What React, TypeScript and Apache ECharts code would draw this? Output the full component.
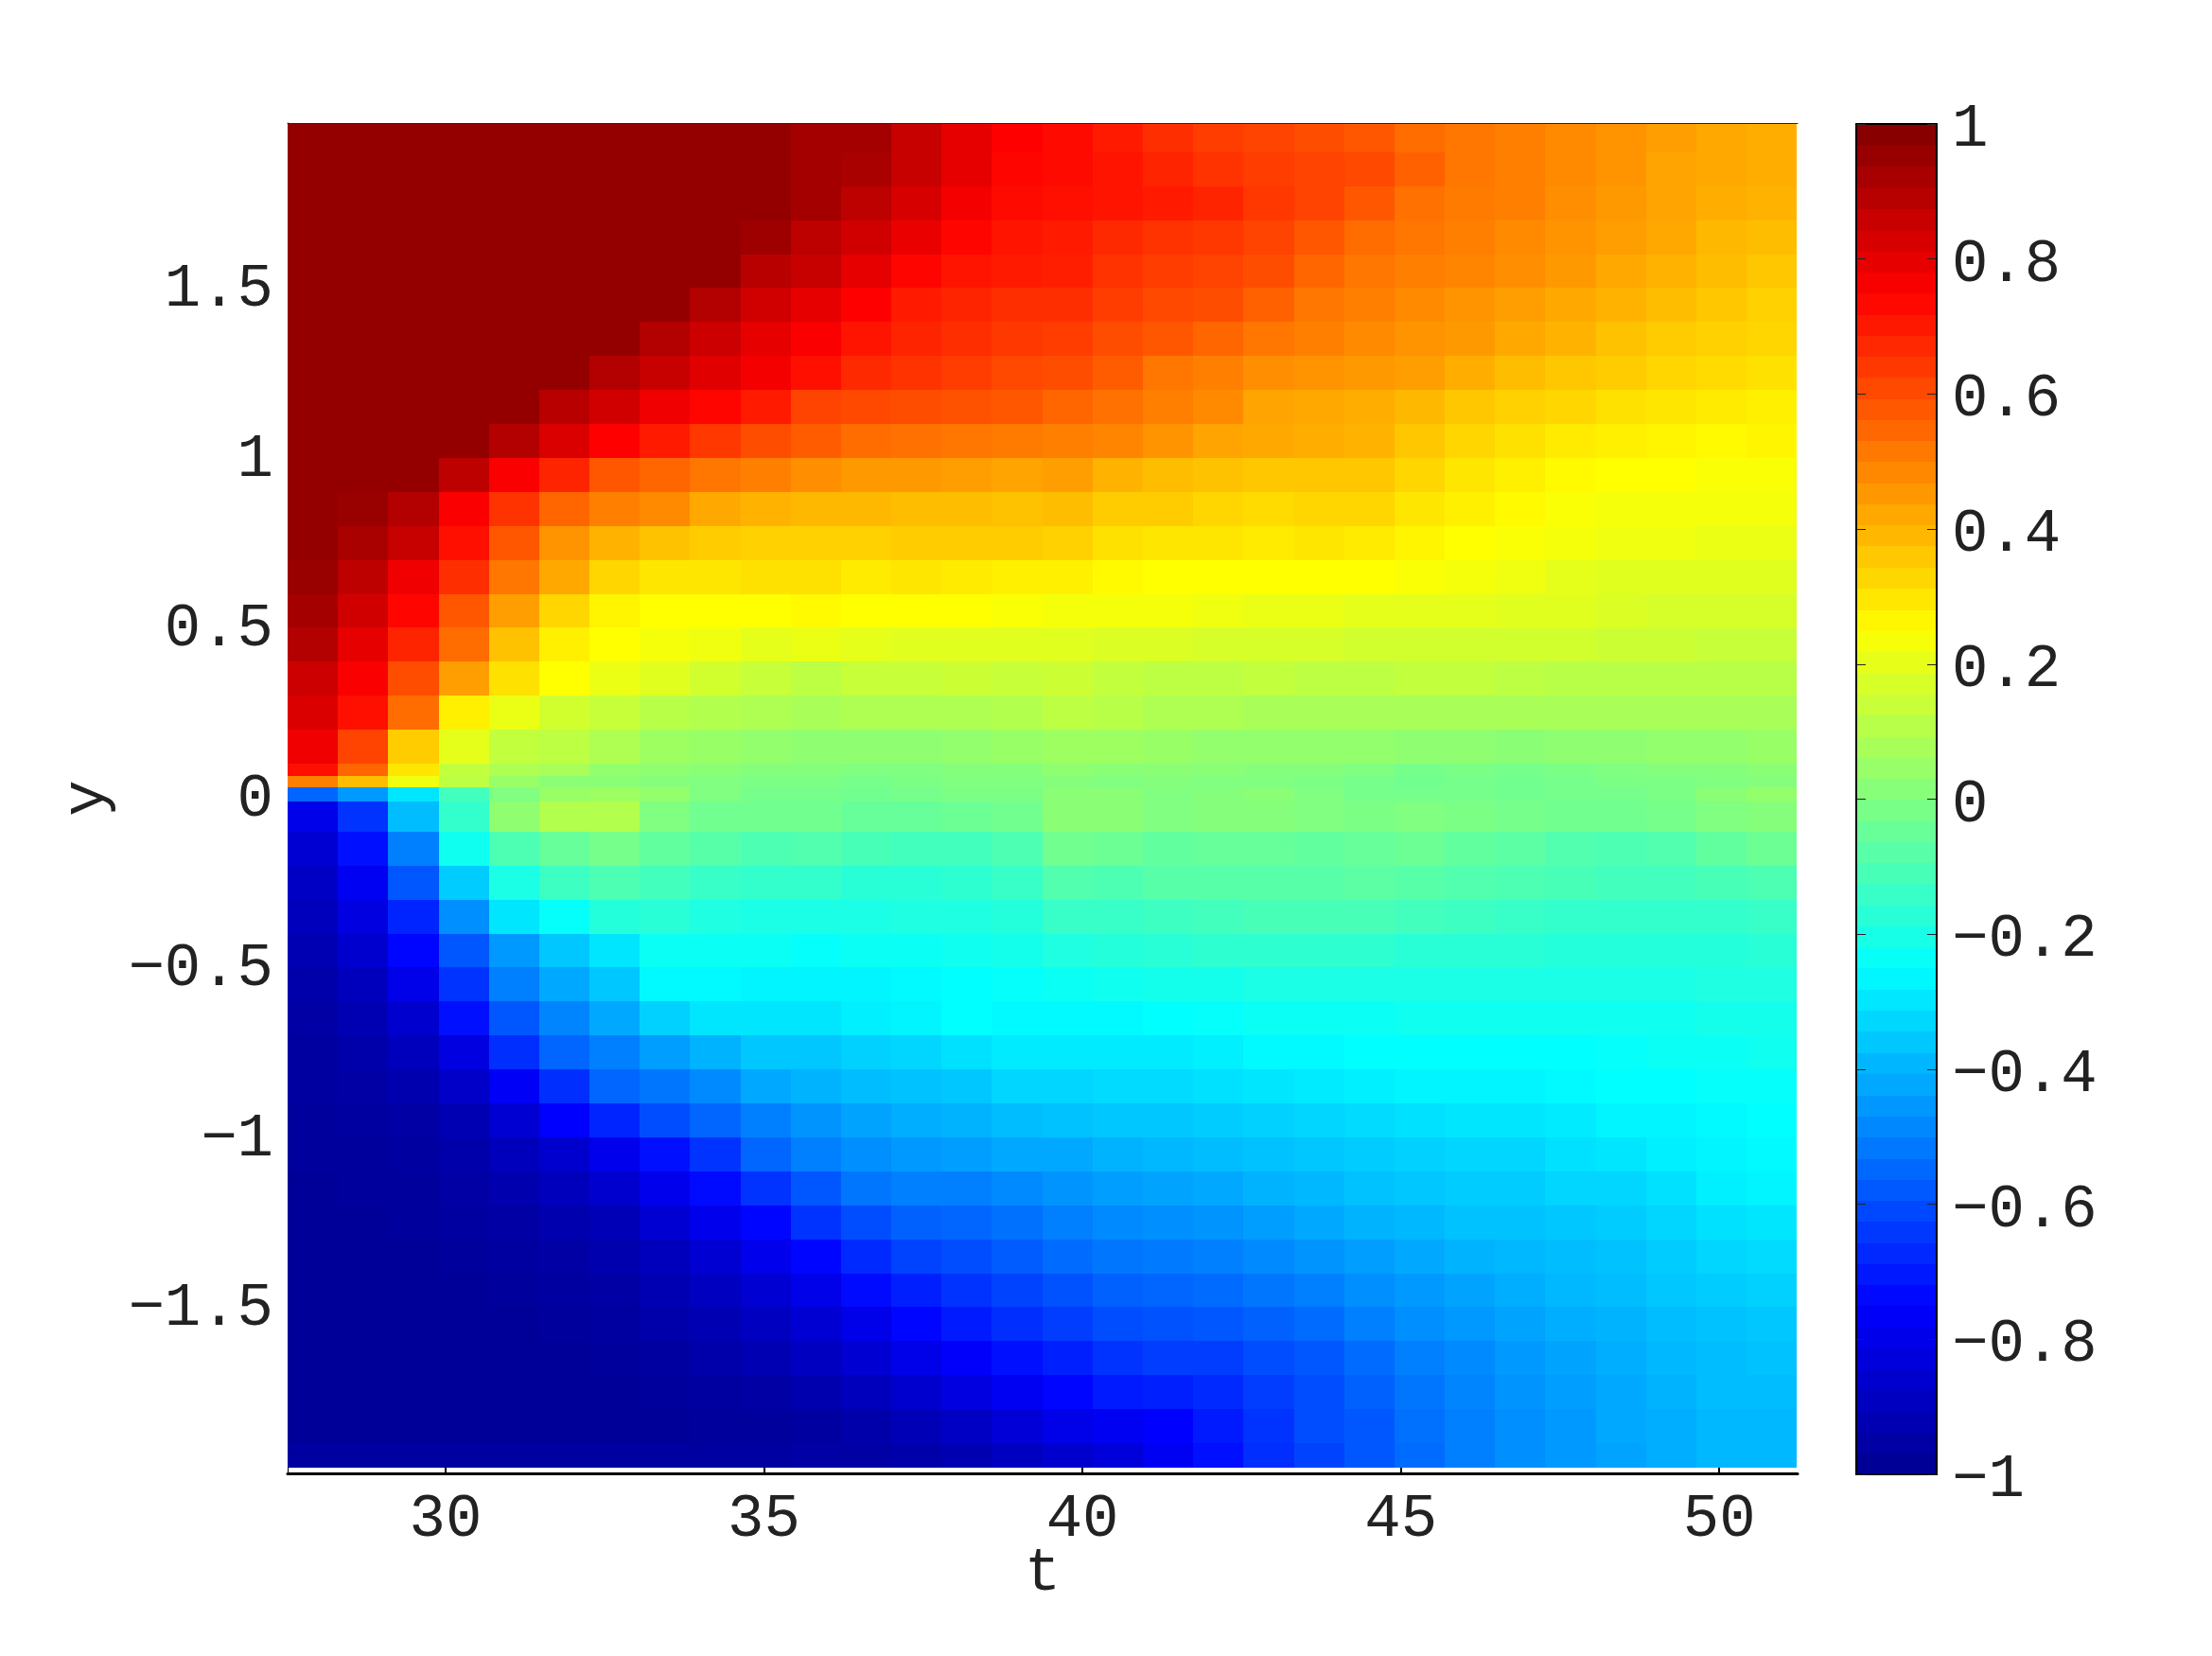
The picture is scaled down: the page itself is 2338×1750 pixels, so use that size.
import React, { useEffect, useRef } from "react";
import * as echarts from "echarts";

const tCenters = [27.915, 28.705, 29.495, 30.285, 31.075, 31.865, 32.655, 33.445, 34.235, 35.025, 35.815, 36.605, 37.395, 38.185, 38.975, 39.765, 40.555, 41.345, 42.135, 42.925, 43.715, 44.505, 45.295, 46.085, 46.875, 47.665, 48.455, 49.245, 50.035, 50.825];
const yEdges = [1.986, 1.9, 1.8, 1.7, 1.6, 1.5, 1.4, 1.3, 1.2, 1.1, 1.0, 0.9, 0.8, 0.7, 0.6, 0.5, 0.4, 0.3, 0.2, 0.1, 0.065, 0.03, -0.01, -0.1, -0.2, -0.3, -0.4, -0.5, -0.6, -0.7, -0.8, -0.9, -1.0, -1.1, -1.2, -1.3, -1.4, -1.5, -1.6, -1.7, -1.8, -1.9, -1.972];
const xTicks = [30, 35, 40, 45, 50];
const yTicks = [-1.5, -1, -0.5, 0, 0.5, 1, 1.5];

// values in hundredths, one row per y band (top to bottom), one entry per t column
const zRows = [
  [96,96,96,96,96,96,96,96,96,96,93,93,86,80,75,73,70,66,63,62,60,58,54,52,50,48,46,44,42,41],
  [96,96,96,96,96,96,96,96,96,96,93,92,86,80,74,73,71,68,65,63,62,61,56,52,50,48,46,43,42,41],
  [96,96,96,96,96,96,96,96,96,96,93,88,83,77,73,72,71,70,68,64,62,58,53,51,50,47,45,43,41,40],
  [96,96,96,96,96,96,96,96,96,94,88,84,79,74,71,70,67,65,64,62,58,54,52,50,48,46,44,42,39,38],
  [96,96,96,96,96,96,96,96,96,89,86,80,74,71,70,69,65,63,62,60,55,52,50,49,47,45,42,40,38,36],
  [96,96,96,96,96,96,96,96,90,84,80,75,70,68,66,66,63,61,60,56,52,50,48,46,44,42,40,38,36,34],
  [96,96,96,96,96,96,96,90,85,80,76,71,68,66,64,63,60,58,55,52,50,48,46,45,42,40,37,35,34,33],
  [96,96,96,96,96,96,90,86,81,77,72,67,65,63,61,60,57,52,50,47,46,45,44,41,38,36,35,33,32,31],
  [96,96,96,96,96,89,84,78,74,70,62,61,60,59,58,55,53,50,48,43,42,41,39,36,34,33,31,30,29,28],
  [96,96,96,96,90,82,75,70,64,60,57,54,53,52,51,50,49,46,43,42,41,40,36,33,31,29,28,27,26,27],
  [96,96,96,88,76,68,58,55,52,50,47,45,45,44,43,44,40,38,37,36,36,36,33,30,28,26,25,25,24,24],
  [96,95,90,76,65,55,50,48,42,40,39,39,38,38,37,38,35,35,33,32,33,33,30,28,26,24,23,23,23,23],
  [96,92,86,72,58,46,40,37,35,34,34,34,35,35,35,34,31,30,30,29,30,29,27,25,24,23,22,22,21,21],
  [95,88,78,66,52,42,33,30,30,31,31,29,30,29,28,28,26,25,25,25,25,25,24,23,22,20,19,19,19,19],
  [93,84,74,58,44,33,27,25,25,25,26,25,25,25,24,23,23,23,22,21,21,20,20,20,19,19,18,17,17,17],
  [90,80,68,54,37,28,25,23,22,20,21,20,19,19,19,19,18,18,17,17,17,16,16,16,16,16,15,15,14,14],
  [85,76,60,44,31,25,21,19,16,14,12,14,14,15,14,15,13,12,12,13,12,12,13,13,12,11,11,11,11,11],
  [82,72,54,28,21,16,14,11,10,9,8,9,9,9,10,12,11,9,9,8,8,8,8,8,8,8,8,8,8,8],
  [78,62,35,20,13,12,9,6,5,4,3,3,3,4,5,6,6,5,4,4,4,4,3,3,2,3,3,4,4,5],
  [72,55,30,13,9,8,4,3,2,1,1,0,0,1,1,3,2,2,2,1,1,0,-2,-1,-2,-1,0,1,1,2],
  [50,38,22,12,5,2,2,1,0,-1,-1,-2,-1,0,0,1,0,1,0,0,-1,-2,-3,-2,-3,-2,-1,-1,0,1],
  [-55,-45,-30,-12,0,5,6,4,0,-2,-2,-3,-2,-1,-1,2,2,0,1,2,0,-2,-2,-2,-3,-2,-2,-1,2,4],
  [-80,-65,-38,-15,3,10,10,0,-3,-3,-3,-5,-5,-4,-3,2,2,0,1,1,0,-1,0,-1,-2,-3,-3,-2,0,1],
  [-85,-72,-50,-22,-10,-5,-2,-6,-8,-10,-9,-11,-12,-12,-10,-3,-4,-6,-5,-5,-6,-5,-4,-6,-7,-9,-10,-9,-6,-4],
  [-88,-78,-58,-35,-20,-13,-10,-12,-14,-15,-15,-17,-17,-16,-14,-9,-10,-8,-8,-8,-8,-7,-8,-9,-10,-11,-12,-12,-11,-10],
  [-90,-82,-68,-47,-30,-24,-18,-17,-19,-20,-20,-20,-19,-19,-18,-14,-14,-13,-12,-11,-11,-11,-12,-13,-14,-15,-15,-15,-15,-14],
  [-92,-86,-74,-58,-45,-36,-30,-23,-23,-23,-24,-23,-23,-22,-21,-19,-18,-17,-16,-16,-16,-16,-17,-17,-17,-18,-18,-18,-18,-17],
  [-94,-90,-80,-65,-50,-42,-36,-26,-26,-27,-27,-27,-26,-25,-24,-23,-22,-21,-21,-20,-20,-20,-20,-20,-20,-20,-20,-20,-19,-19],
  [-95,-92,-86,-72,-58,-49,-42,-34,-30,-30,-30,-28,-27,-25,-26,-26,-26,-25,-24,-23,-23,-23,-22,-22,-22,-22,-22,-22,-21,-21],
  [-96,-94,-90,-82,-66,-55,-50,-44,-40,-36,-36,-34,-33,-31,-29,-29,-29,-29,-28,-26,-26,-25,-25,-25,-25,-25,-24,-23,-23,-22],
  [-96,-95,-93,-87,-77,-66,-55,-52,-48,-42,-40,-38,-37,-36,-33,-33,-32,-32,-31,-30,-29,-28,-27,-27,-27,-26,-25,-25,-24,-24],
  [-97,-96,-95,-92,-85,-75,-68,-60,-55,-50,-46,-43,-41,-40,-38,-37,-36,-36,-35,-34,-33,-32,-31,-30,-30,-29,-27,-27,-26,-25],
  [-97,-97,-96,-94,-90,-86,-79,-72,-65,-55,-50,-47,-45,-44,-42,-42,-40,-39,-38,-37,-36,-35,-34,-33,-33,-31,-30,-28,-27,-26],
  [-98,-97,-97,-95,-93,-90,-86,-79,-73,-65,-58,-52,-50,-50,-48,-46,-44,-43,-42,-40,-39,-37,-36,-35,-35,-33,-33,-31,-28,-27],
  [-98,-98,-97,-96,-95,-93,-91,-85,-79,-74,-65,-60,-56,-55,-53,-50,-48,-47,-46,-44,-42,-40,-39,-37,-37,-36,-35,-33,-31,-30],
  [-98,-98,-98,-97,-96,-95,-93,-90,-85,-79,-74,-67,-62,-60,-57,-54,-52,-51,-50,-48,-46,-44,-42,-40,-39,-38,-37,-35,-33,-32],
  [-98,-98,-98,-98,-97,-96,-95,-92,-89,-85,-80,-73,-69,-65,-62,-59,-56,-55,-54,-52,-50,-47,-45,-43,-41,-39,-38,-36,-35,-34],
  [-98,-98,-98,-98,-98,-97,-96,-94,-92,-89,-85,-80,-74,-70,-66,-63,-60,-59,-58,-56,-54,-50,-47,-45,-43,-41,-40,-38,-37,-36],
  [-98,-98,-98,-98,-98,-98,-97,-96,-94,-92,-89,-85,-80,-76,-72,-69,-65,-63,-63,-60,-58,-54,-50,-48,-45,-43,-41,-39,-38,-37],
  [-98,-98,-98,-98,-98,-98,-98,-97,-96,-95,-93,-90,-86,-82,-78,-74,-70,-69,-67,-63,-60,-56,-52,-49,-46,-44,-42,-40,-38,-38],
  [-98,-98,-98,-98,-98,-98,-98,-98,-97,-97,-96,-94,-91,-88,-84,-80,-78,-75,-70,-65,-60,-58,-53,-50,-47,-45,-42,-41,-39,-39],
  [-96,-96,-96,-96,-96,-96,-96,-96,-96,-96,-95,-95,-94,-92,-89,-86,-83,-78,-72,-66,-62,-58,-54,-50,-47,-45,-43,-41,-39,-39],
];

const colorbarLevels = [
  -0.984,-0.953,-0.922,-0.891,-0.859,-0.828,-0.797,-0.766,-0.734,-0.703,-0.672,-0.641,-0.609,-0.578,-0.547,-0.516,
  -0.484,-0.453,-0.422,-0.391,-0.359,-0.328,-0.297,-0.266,-0.234,-0.203,-0.172,-0.141,-0.109,-0.078,-0.047,-0.016,
  0.016,0.047,0.078,0.109,0.141,0.172,0.203,0.234,0.266,0.297,0.328,0.359,0.391,0.422,0.453,0.484,
  0.516,0.547,0.578,0.609,0.641,0.672,0.703,0.734,0.766,0.797,0.828,0.859,0.891,0.922,0.953,0.984,
];
const jetStops = ["#00008f", "#0000ff", "#0080ff", "#00ffff", "#80ff80", "#ffff00", "#ff8000", "#ff0000", "#800000"];

const FONT = "Liberation Mono";
const fmt = (v: number) => String(Math.round(v * 10) / 10).replace("-", "\u2212");

export default function App() {
  const ref = useRef<HTMLDivElement>(null);
  useEffect(() => {
    document.body.style.margin = "0";
    const chart = echarts.init(ref.current!, undefined, { renderer: "svg" });
    const cells: number[][] = [];
    zRows.forEach((row, r) =>
      row.forEach((v, c) => cells.push([tCenters[c], yEdges[r], yEdges[r + 1], v / 100]))
    );
    const barCells = colorbarLevels.map((v) => [0.5, Math.min(v + 0.016, 1), Math.max(v - 0.016, -1), v]);
    const halfStep = 0.395;
    const renderField = (_: any, api: any) => {
      const a = api.coord([api.value(0) - halfStep, api.value(1)]);
      const b = api.coord([api.value(0) + halfStep, api.value(2)]);
      const x0 = Math.round(a[0]), x1 = Math.round(b[0]), y0 = Math.round(a[1]), y1 = Math.round(b[1]);
      return { type: "rect", shape: { x: x0, y: y0, width: x1 - x0, height: y1 - y0 }, style: { fill: api.visual("color") } };
    };
    const renderBar = (_: any, api: any) => {
      const a = api.coord([0, api.value(1)]);
      const b = api.coord([1, api.value(2)]);
      const y0 = Math.floor(a[1]), y1 = Math.ceil(b[1]);
      return { type: "rect", shape: { x: a[0], y: y0, width: b[0] - a[0], height: y1 - y0 }, style: { fill: api.visual("color") } };
    };
    const labelStyle = { fontFamily: FONT, fontSize: 64, color: "#222" };
    const offAxis = { splitLine: { show: false }, axisTick: { show: false }, axisLabel: { show: false } };
    chart.setOption({
      animation: false,
      backgroundColor: "#fff",
      visualMap: {
        type: "continuous", show: false, min: -1, max: 1, dimension: 3, seriesIndex: [0, 1],
        inRange: { color: jetStops },
      },
      grid: [
        { left: 304, top: 130, width: 1596, height: 1427 },
        { left: 1962, top: 131, width: 85, height: 1427 },
      ],
      xAxis: [
        {
          type: "value", gridIndex: 0, position: "bottom", min: 27.52, max: 51.23,
          name: "t", nameLocation: "middle", nameGap: 74, nameMoveOverlap: false, nameTextStyle: labelStyle,
          splitLine: { show: false },
          axisLine: { show: true, onZero: false, lineStyle: { color: "#000", width: 3 } },
          axisTick: { show: true, inside: true, length: 8, lineStyle: { color: "#000", width: 2 }, customValues: xTicks },
          axisLabel: { ...labelStyle, margin: 17, customValues: xTicks, formatter: (v: number) => fmt(v) },
        },
        {
          ...offAxis, type: "value", gridIndex: 0, position: "top", min: 27.52, max: 51.23, z: 5,
          axisLine: { show: true, onZero: false, lineStyle: { color: "#4a1a00", width: 1 } },
        },
        {
          ...offAxis, type: "value", gridIndex: 1, position: "bottom", min: 0, max: 1, z: 5,
          axisLine: { show: true, onZero: false, lineStyle: { color: "#000", width: 2 } },
        },
        {
          ...offAxis, type: "value", gridIndex: 1, position: "top", min: 0, max: 1, z: 5,
          axisLine: { show: true, onZero: false, lineStyle: { color: "#000", width: 2 } },
        },
      ],
      yAxis: [
        {
          type: "value", gridIndex: 0, position: "left", min: -1.989, max: 1.986,
          name: "y", nameLocation: "middle", nameGap: 176, nameRotate: 90, nameTextStyle: labelStyle,
          splitLine: { show: false },
          axisLine: { show: true, onZero: false, lineStyle: { color: "#000", width: 1 } },
          axisTick: { show: true, inside: true, length: 8, lineStyle: { color: "#000" }, customValues: yTicks },
          axisLabel: { ...labelStyle, margin: 15, verticalAlign: "top", padding: [-30, 0, 0, 0], customValues: yTicks, formatter: (v: number) => fmt(v) },
        },
        {
          type: "value", gridIndex: 1, position: "left", min: -1, max: 1, interval: 0.2, z: 5,
          splitLine: { show: false }, axisLabel: { show: false },
          axisLine: { show: true, onZero: false, lineStyle: { color: "#000", width: 2 } },
          axisTick: { show: true, inside: true, length: 10, lineStyle: { color: "#222", width: 1 } },
        },
        {
          type: "value", gridIndex: 1, position: "right", min: -1, max: 1, interval: 0.2, z: 5,
          splitLine: { show: false },
          axisLine: { show: true, onZero: false, lineStyle: { color: "#000", width: 2 } },
          axisTick: { show: true, inside: true, length: 10, lineStyle: { color: "#222", width: 1 } },
          axisLabel: { ...labelStyle, margin: 16, verticalAlign: "top", padding: [-26, 0, 0, 0], showMinLabel: true, showMaxLabel: true, formatter: (v: number) => fmt(v) },
        },
      ],
      series: [
        {
          type: "custom", xAxisIndex: 0, yAxisIndex: 0, renderItem: renderField, data: cells,
          encode: { x: 0, y: [1, 2] }, silent: true, clip: true,
        },
        {
          type: "custom", xAxisIndex: 2, yAxisIndex: 2, renderItem: renderBar, data: barCells,
          encode: { x: 0, y: [1, 2] }, silent: true,
        },
      ],
    });
    return () => chart.dispose();
  }, []);
  return <div ref={ref} style={{ position: "absolute", left: 0, top: 0, width: 2338, height: 1750 }} />;
}
